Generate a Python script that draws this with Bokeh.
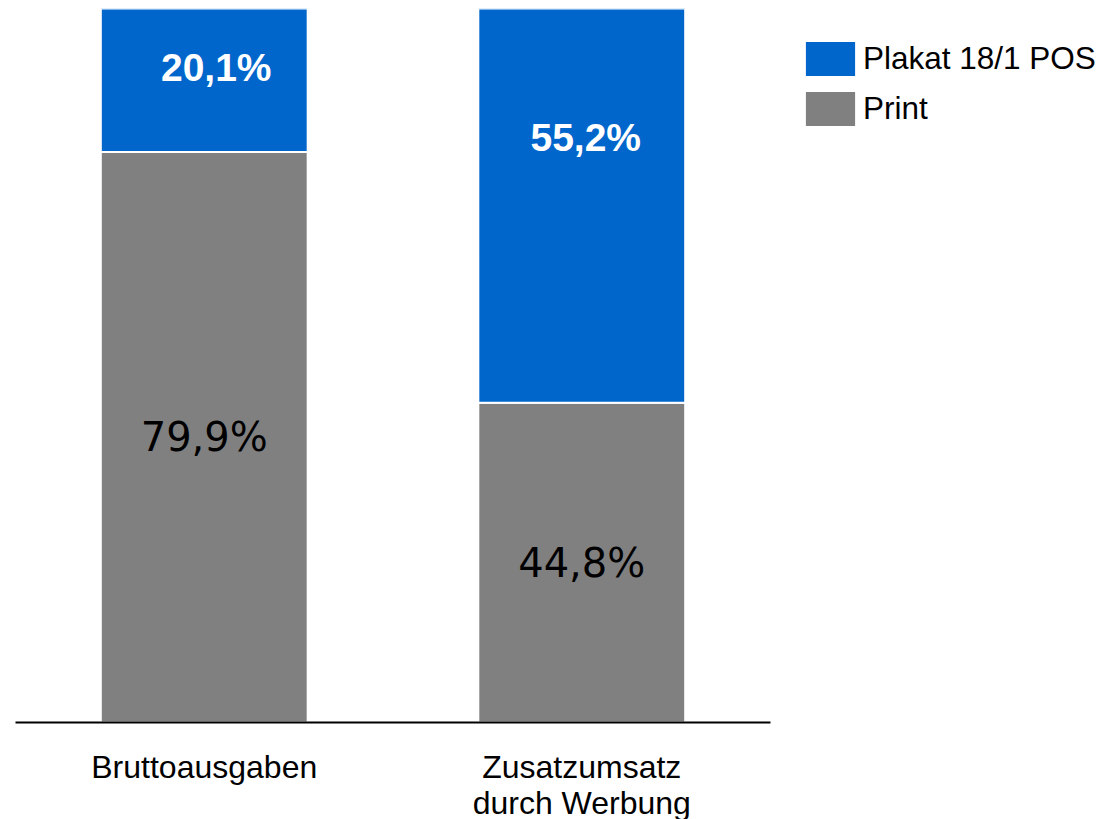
from bokeh.plotting import figure
from bokeh.models import ColumnDataSource, FactorRange, Range1d, Legend, LegendItem
from bokeh.core.properties import value
from bokeh.embed import file_html
from bokeh.resources import INLINE

# ---- data ----
categories = ["Bruttoausgaben", "Zusatzumsatz\ndurch Werbung"]
print_share = [79.9, 44.8]
plakat_share = [20.1, 55.2]
print_labels = ["79,9%", "44,8%"]
plakat_labels = ["20,1%", "55,2%"]
series_names = ["Plakat 18/1 POS", "Print"]

# label placement (data units / pixel offsets)
plakat_label_y = [91.7, 81.9]
plakat_label_dx = [12, 4]

GREY = "#808080"
BLUE = "#0066CC"

src = ColumnDataSource(dict(cat=categories, print=print_share, plakat=plakat_share))

p = figure(
    x_range=FactorRange(*categories, range_padding=0, factor_padding=0),
    y_range=Range1d(0, 100),
    frame_width=755, frame_height=714,
    output_backend="svg", toolbar_location=None,
    y_axis_location=None,
    min_border_left=15, min_border_top=8, min_border_right=0, min_border_bottom=0,
    background_fill_color="white", border_fill_color="white",
)
p.outline_line_color = None
p.xgrid.visible = False
p.ygrid.visible = False

rs = p.vbar_stack(["print", "plakat"], x="cat", width=0.548, color=[GREY, BLUE],
                  line_color="white", line_width=2, source=src)
print_r, plakat_r = rs

p.text(x=categories, y=[v / 2 for v in print_share], text=print_labels,
       text_font=value("DejaVu Sans"), text_font_size="40px",
       text_align="center", text_baseline="middle", text_color="black")

p.text(x=categories, y=plakat_label_y, text=plakat_labels, x_offset=plakat_label_dx,
       text_font=value("Liberation Sans"), text_font_style="bold", text_font_size="39px",
       text_align="center", text_baseline="middle", text_color="white")

ax = p.xaxis[0]
ax.major_label_text_font = "Liberation Sans"
ax.major_label_text_font_size = "32px"
ax.major_label_text_color = "black"
ax.major_label_text_line_height = 1.0
ax.major_tick_line_color = None
ax.major_tick_out = 0
ax.major_tick_in = 0
ax.minor_tick_line_color = None
ax.axis_line_width = 2
ax.axis_line_color = "black"
ax.major_label_standoff = 26

legend = Legend(
    items=[LegendItem(label=series_names[0], renderers=[plakat_r]),
           LegendItem(label=series_names[1], renderers=[print_r])],
    location="top_left", margin=28, padding=0, spacing=5,
    glyph_width=64, glyph_height=45, label_standoff=1, label_height=34,
    label_text_font="Liberation Sans", label_text_font_size="31.5px",
    label_text_color="black",
    border_line_color=None, background_fill_alpha=0,
)
p.add_layout(legend, "right")

open("out.html", "w").write(file_html(p, INLINE))
